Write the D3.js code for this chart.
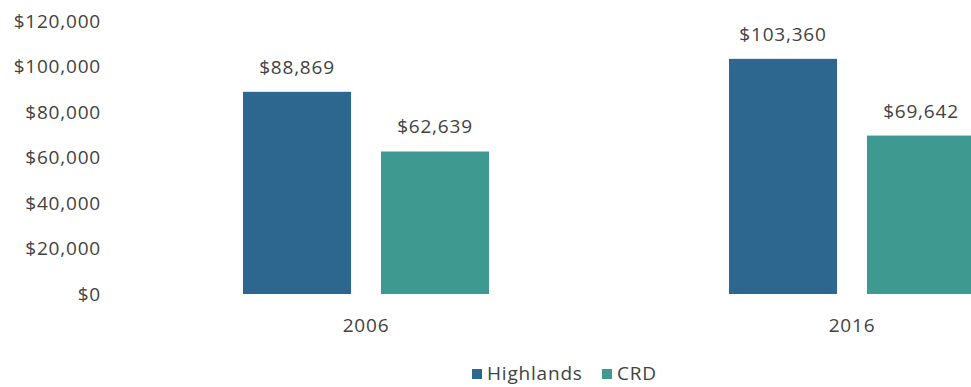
<!DOCTYPE html>
<html>
<head>
<meta charset="utf-8">
<script src="https://cdn.jsdelivr.net/npm/d3@7"></script>
<style>
  html, body { margin: 0; padding: 0; background: #fff; }
  svg { display: block; }
  text { font-family: "Open Sans", "Noto Sans", sans-serif; fill: #424242; letter-spacing: 0.8px; }
</style>
</head>
<body>
<svg id="chart" width="971" height="387"></svg>
<script>
// Median household income, Highlands vs CRD
const years = ["2006", "2016"];
const seriesNames = ["Highlands", "CRD"];
const highlandsValues = [88869, 103360];
const crdValues = [62639, 69642];
const yTicks = [0, 20000, 40000, 60000, 80000, 100000, 120000];
const colors = ["#2d6790", "#3e9a90"];

const svg = d3.select("#chart");

const y = d3.scaleLinear().domain([0, 120000]).range([294, 21]);
const x0 = d3.scaleBand().domain(years).range([123, 1095]).padding(0);
const x1 = d3.scaleBand().domain(seriesNames).range([120, 366]).paddingInner(0.217).paddingOuter(0);
const color = d3.scaleOrdinal().domain(seriesNames).range(colors);
const money = v => "$" + d3.format(",")(v);

// Y axis labels
const yAxis = d3.axisLeft(y).tickValues(yTicks).tickFormat(money).tickSize(0).tickPadding(0);
const ya = svg.append("g").attr("transform", "translate(101,0)").call(yAxis);
ya.select(".domain").remove();
ya.selectAll("text").style("font-size", "19px").attr("fill", "#424242")
  .style("font-family", "'Open Sans', sans-serif");

// Rows of bar data built from the series arrays
const rows = years.map((yr, i) => ({
  year: yr,
  values: [
    { key: "Highlands", value: highlandsValues[i] },
    { key: "CRD", value: crdValues[i] }
  ]
}));

const groups = svg.append("g").selectAll("g").data(rows).join("g")
  .attr("transform", d => `translate(${x0(d.year)},0)`);

groups.selectAll("rect").data(d => d.values).join("rect")
  .attr("x", d => x1(d.key))
  .attr("width", x1.bandwidth())
  .attr("y", d => y(d.value))
  .attr("height", d => y(0) - y(d.value))
  .attr("fill", d => color(d.key));

groups.selectAll("text.val").data(d => d.values).join("text")
  .attr("class", "val")
  .attr("x", d => x1(d.key) + x1.bandwidth() / 2)
  .attr("y", d => y(d.value) - 18)
  .attr("text-anchor", "middle")
  .style("font-size", "19px")
  .text(d => money(d.value));

// X axis category labels
const xAxis = d3.axisBottom(x0).tickSize(0).tickPadding(0);
const xa = svg.append("g").attr("transform", "translate(0,318)").call(xAxis);
xa.select(".domain").remove();
xa.selectAll("text").style("font-size", "19px").attr("fill", "#424242")
  .style("font-family", "'Open Sans', sans-serif");

// Legend
const legendItems = [
  { key: "Highlands", x: 472 },
  { key: "CRD", x: 602 }
];
const lg = svg.append("g").selectAll("g").data(legendItems).join("g")
  .attr("transform", d => `translate(${d.x},369)`);
lg.append("rect").attr("width", 10).attr("height", 10).attr("fill", d => color(d.key));
lg.append("text").attr("x", 15).attr("y", 11).style("font-size", "19px").text(d => d.key);
</script>
</body>
</html>
